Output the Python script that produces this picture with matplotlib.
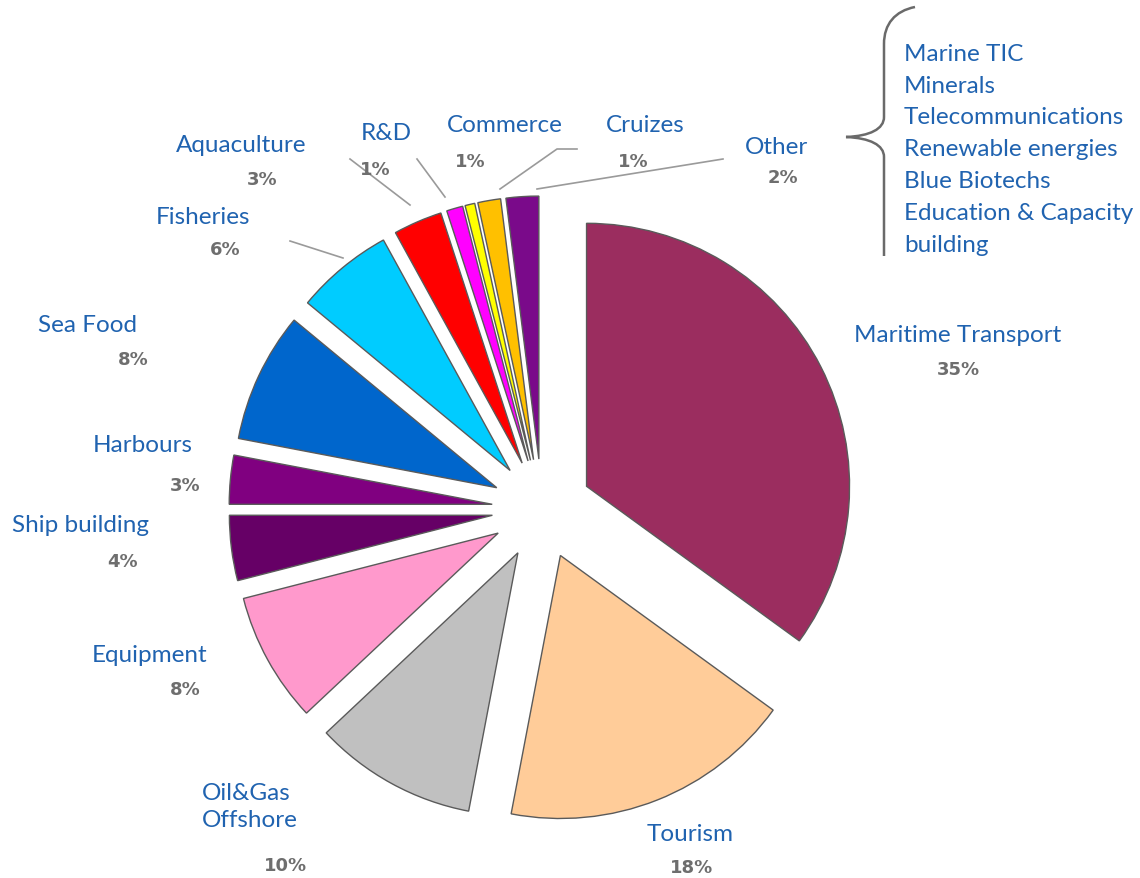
import matplotlib
matplotlib.use("Agg")
import matplotlib.pyplot as plt
from matplotlib.path import Path
from matplotlib.patches import PathPatch

# data
sectors = ["Maritime Transport", "Tourism", "Oil&Gas\nOffshore", "Equipment", "Ship building",
           "Harbours", "Sea Food", "Fisheries", "Aquaculture", "R&D", "Commerce", "Cruizes", "Other"]
shares = [35, 18, 10, 8, 4, 3, 8, 6, 3, 1, 0.6, 1.4, 2]
pct_labels = ["35%", "18%", "10%", "8%", "4%", "3%", "8%", "6%", "3%", "1%", "1%", "1%", "2%"]
colors = ["#9B2D5F", "#FFCC99", "#C0C0C0", "#FF99CC", "#660066", "#800080", "#0066CC",
          "#00CCFF", "#FF0000", "#FF00FF", "#FFFF00", "#FFC000", "#7A0A8A"]
other_items = ["Marine TIC", "Minerals", "Telecommunications", "Renewable energies",
               "Blue Biotechs", "Education & Capacity", "building"]

W, H = 1140, 879
BLUE = "#2063B0"
GREY = "#6e6e6e"
FS = 17.5

fig = plt.figure(figsize=(W / 100, H / 100), dpi=100)
ax = fig.add_axes([0, 0, 1, 1])

# pie in pixel-like coordinates (y measured from bottom)
cx, cy, r = 542, H - 510, 263
explode = [50] * len(shares)
ax.pie(shares, colors=colors, explode=explode, startangle=90, counterclock=False,
       center=(cx, cy), radius=r,
       wedgeprops=dict(edgecolor="#5a5a5a", linewidth=1.0))

ax.set_xlim(0, W)
ax.set_ylim(0, H)
ax.set_aspect("equal")
ax.axis("off")


def Y(v):
    return H - v


# faint leader lines
leaders = [[(290, 242), (343, 259)],
           [(350, 160), (410, 206)],
           [(417, 160), (445, 198)],
           [(500, 190), (557, 150), (577, 150)],
           [(537, 190), (723, 160)]]
for pts in leaders:
    ax.plot([p[0] for p in pts], [Y(p[1]) for p in pts], color="#9a9a9a", lw=1.2, zorder=1)

# sector names and percentages (name pos, pct pos)
label_pos = [((958, 335), (958, 370)), ((690, 835), (692, 868)), ((250, 807), (285, 866)),
             ((150, 656), (185, 690)), ((81, 525), (122, 562)), ((143, 446), (185, 486)),
             ((87, 325), (133, 360)), ((203, 217), (225, 250)), ((241, 146), (262, 180)),
             ((386, 134), (375, 170)), ((505, 126), (470, 162)), ((645, 126), (633, 162)),
             ((777, 147), (783, 178))]

for name, pct, ((nx, ny), (px, py)) in zip(sectors, pct_labels, label_pos):
    ax.text(px, Y(py), pct, fontsize=13, fontweight="bold", color=GREY,
            family="DejaVu Sans", ha="center", va="center", zorder=3)
    if "\n" in name:
        ax.text(202, Y(ny), name, fontsize=FS, color=BLUE, family="Lato",
                ha="left", va="center", linespacing=1.3, zorder=5,
                bbox=dict(facecolor="white", edgecolor="none", pad=6))
    else:
        ax.text(nx, Y(ny), name, fontsize=FS, color=BLUE, family="Lato",
                ha="center", va="center", zorder=5,
                bbox=dict(facecolor="white", edgecolor="none", pad=4))

# list of "Other" components
for i, item in enumerate(other_items):
    ax.text(904, Y(54 + 32 * i), item, fontsize=FS, color=BLUE, family="Lato",
            ha="left", va="center", zorder=5)

# curly brace
verts = [(915, 8), (895, 12), (884, 25), (884, 45),
         (884, 118),
         (884, 130), (870, 137), (846, 138),
         (870, 139), (884, 146), (884, 158),
         (884, 257)]
codes = [Path.MOVETO, Path.CURVE4, Path.CURVE4, Path.CURVE4,
         Path.LINETO,
         Path.CURVE4, Path.CURVE4, Path.CURVE4,
         Path.CURVE4, Path.CURVE4, Path.CURVE4,
         Path.LINETO]
verts = [(x, Y(y)) for x, y in verts]
ax.add_patch(PathPatch(Path(verts, codes), facecolor="none", edgecolor="#6a6a6a", lw=1.8, zorder=4))

fig.savefig("out.png", dpi=100)
